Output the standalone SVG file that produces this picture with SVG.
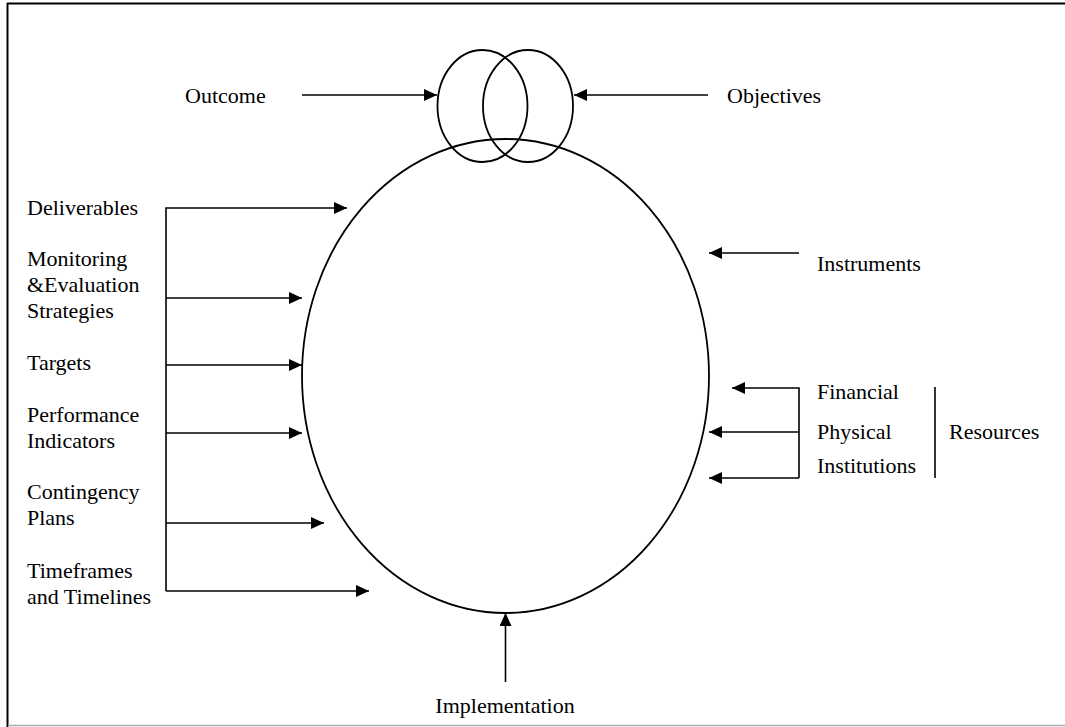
<svg xmlns="http://www.w3.org/2000/svg" width="1065" height="727" viewBox="0 0 1065 727">
<style>
text{font-family:"Liberation Serif","Times New Roman",serif;font-size:22px;fill:#000}
.ln{stroke:#000;stroke-width:1.6;fill:none}
.sh{stroke:#000;stroke-width:1.8;fill:none}
</style>
<defs>
<marker id="ah" markerWidth="13" markerHeight="12" refX="13" refY="6" orient="auto" markerUnits="userSpaceOnUse">
<path d="M0,0 L13,6 L0,12 Z" fill="#000"/>
</marker>
</defs>
<rect width="1065" height="727" fill="#fff"/>
<g id="frame">
<line x1="7" y1="3.5" x2="1065" y2="3.5" stroke="#000" stroke-width="2"/>
<line x1="7.5" y1="3" x2="7.5" y2="727" stroke="#000" stroke-width="2"/>
<line x1="8" y1="725.5" x2="1065" y2="725.5" stroke="#aaa" stroke-width="1.5"/>
</g>
<g id="ring-left"><ellipse class="sh" cx="482.5" cy="106" rx="45" ry="56"/></g>
<g id="ring-right"><ellipse class="sh" cx="528" cy="106" rx="45" ry="56"/></g>
<g id="core"><ellipse class="sh" cx="505.5" cy="376" rx="203.5" ry="237"/></g>
<g id="connectors">
<line class="ln" x1="302" y1="95" x2="437" y2="95" marker-end="url(#ah)"/>
<line class="ln" x1="708" y1="95" x2="574" y2="95" marker-end="url(#ah)"/>
<polyline class="ln" points="166,591 166,208 347,208" marker-end="url(#ah)"/>
<line class="ln" x1="166" y1="298" x2="302" y2="298" marker-end="url(#ah)"/>
<line class="ln" x1="166" y1="365" x2="302" y2="365" marker-end="url(#ah)"/>
<line class="ln" x1="166" y1="433" x2="302" y2="433" marker-end="url(#ah)"/>
<line class="ln" x1="166" y1="523" x2="324" y2="523" marker-end="url(#ah)"/>
<line class="ln" x1="166" y1="591" x2="369" y2="591" marker-end="url(#ah)"/>
<line class="ln" x1="799" y1="253" x2="709" y2="253" marker-end="url(#ah)"/>
<polyline class="ln" points="799,478 799,388 732,388" marker-end="url(#ah)"/>
<line class="ln" x1="799" y1="432" x2="709" y2="432" marker-end="url(#ah)"/>
<line class="ln" x1="799" y1="478" x2="709" y2="478" marker-end="url(#ah)"/>
<line class="ln" x1="505.5" y1="682" x2="505.5" y2="613" marker-end="url(#ah)"/>
<line class="ln" x1="935" y1="387" x2="935" y2="478"/>
</g>
<g id="outcome"><text x="185" y="103">Outcome</text></g>
<g id="objectives"><text x="727" y="103">Objectives</text></g>
<g id="deliverables"><text x="27" y="215">Deliverables</text></g>
<g id="monitoring"><text x="27" y="266">Monitoring</text><text x="27" y="292">&amp;Evaluation</text><text x="27" y="318">Strategies</text></g>
<g id="targets"><text x="27" y="370">Targets</text></g>
<g id="performance"><text x="27" y="422">Performance</text><text x="27" y="448">Indicators</text></g>
<g id="contingency"><text x="27" y="499">Contingency</text><text x="27" y="525">Plans</text></g>
<g id="timeframes"><text x="27" y="578">Timeframes</text><text x="27" y="604">and Timelines</text></g>
<g id="instruments"><text x="817" y="271">Instruments</text></g>
<g id="financial"><text x="817" y="399">Financial</text></g>
<g id="physical"><text x="817" y="439">Physical</text></g>
<g id="institutions"><text x="817" y="473">Institutions</text></g>
<g id="resources"><text x="949" y="439">Resources</text></g>
<g id="implementation"><text x="505" y="713" text-anchor="middle">Implementation</text></g>
</svg>
